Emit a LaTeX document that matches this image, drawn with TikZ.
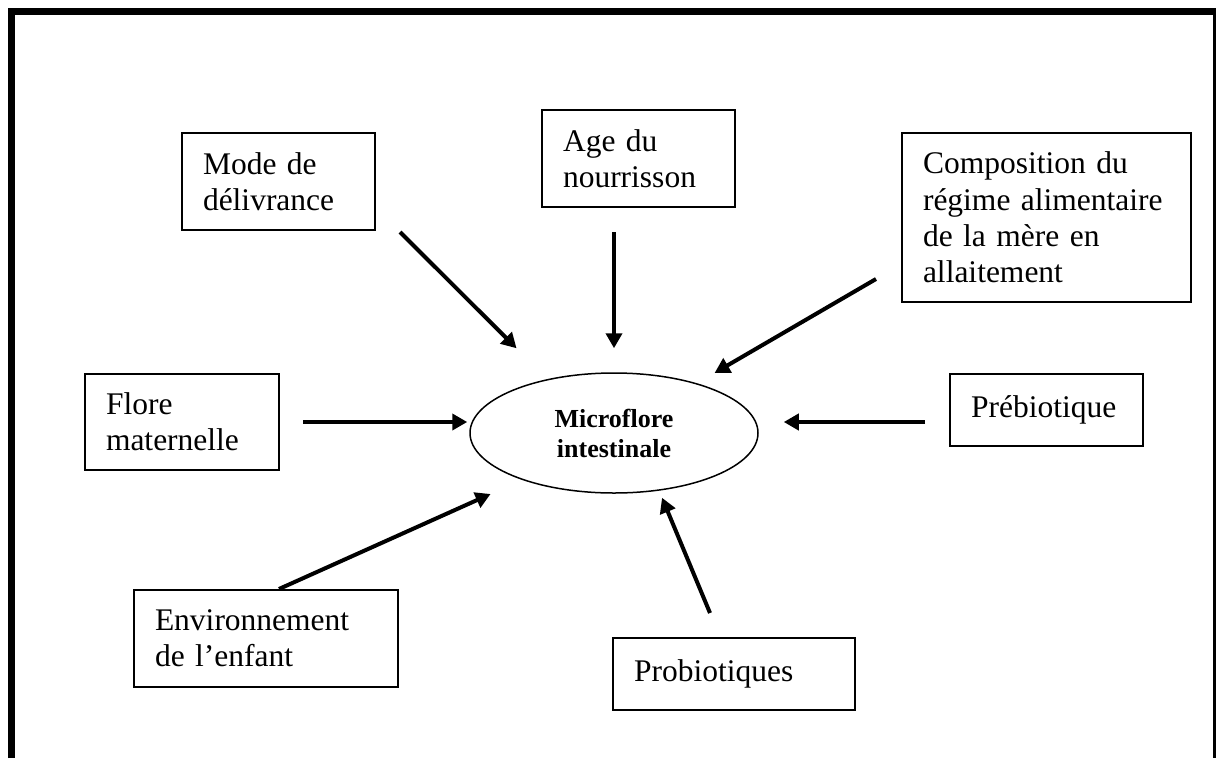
\documentclass[tikz,border=0pt]{standalone}
\usepackage{fontspec}
\setmainfont{Liberation Serif}
\usetikzlibrary{arrows.meta, shapes.geometric, calc}
\tikzset{
  every picture/.style={x=1pt, y=-1pt, line width=2pt},
  box/.style={draw, rectangle, align=left, inner xsep=21pt, inner ysep=0pt, font=\fontsize{31.5}{36.2}\selectfont},
  hub/.style={draw, ellipse, line width=1.5pt, minimum width=288pt, minimum height=120pt, inner sep=0pt, align=center, font=\fontsize{26}{30}\selectfont\bfseries},
  arrow/.style={-{Triangle[length=15pt, width=16pt]}, line width=4pt},
  frame/.style={line width=#1},
}

\begin{document}
\begin{tikzpicture}
  \useasboundingbox (0,0) rectangle (1218,758);
  % outer frame, open at the bottom
  \draw[frame=6.7pt] (11.7,758) -- (11.7,11.7) -- (1216,11.7);
  \draw[frame=3.4pt] (1214.3,11.7) -- (1214.3,758);

  \node[hub] (micro) at (614,433) {Microflore\\intestinale};

  \node[box, text width=151pt, minimum height=97pt] (mode) at (278.5,181.5) {Mode de\\délivrance};
  \node[box, text width=151pt, minimum height=97pt] (age) at (638.5,158.5) {Age du\\nourrisson};
  \node[box, text width=247pt, minimum height=169pt] (compo) at (1046.5,217.5) {Composition du\\régime alimentaire\\de la mère en\\allaitement};
  \node[box, text width=152pt, minimum height=96pt] (flore) at (182,422) {Flore\\maternelle};
  \node[box, text width=151pt, minimum height=72pt] (preb) at (1046.5,410) {Prébiotique};
  \node[box, text width=222pt, minimum height=97pt] (env) at (266,638.5) {Environnement\\de l’enfant};
  \node[box, text width=200pt, minimum height=72pt] (probio) at (734,674) {Probiotiques};

  % free ends of the arrows, next to their boxes
  \coordinate (mode-out) at ([shift={(24,1)}]mode.south east);
  \coordinate (compo-out) at ([shift={(-25,-24)}]compo.south west);
  \coordinate (env-out) at ([xshift=13pt]env.north);
  \coordinate (probio-out) at ([shift={(-24,-24)}]probio.north);

  \draw[arrow, shorten >=43.6pt] (mode-out) -- (micro.141.2);
  \draw[arrow, shorten <=24pt, shorten >=24pt] (micro.north |- age.south) -- (micro.north);
  \draw[arrow, shorten >=20.5pt] (compo-out) -- (micro.31.8);
  \draw[arrow, shorten <=23pt, shorten >=2pt] (flore.east) -- (micro.west |- flore.east);
  \draw[arrow, shorten <=24pt, shorten >=25pt] (preb.west |- flore.east) -- (micro.east |- flore.east);
  \draw[arrow, shorten >=34.4pt] (env-out) -- (micro.207.7);
  \draw[arrow, shorten >=7.6pt] (probio-out) -- (micro.308.4);
\end{tikzpicture}
\end{document}
